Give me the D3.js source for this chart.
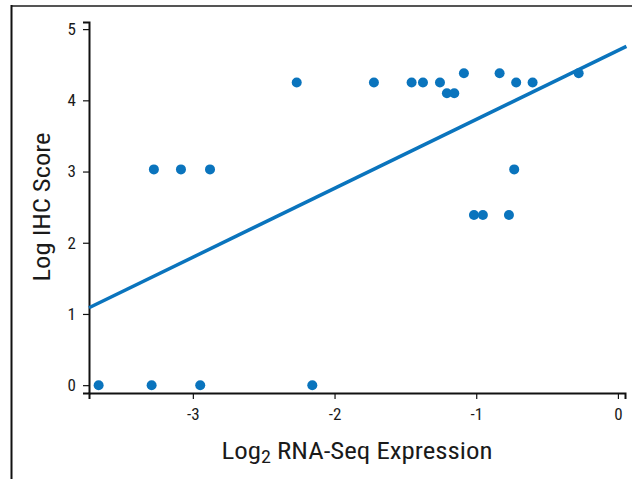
<!DOCTYPE html>
<html><head><meta charset="utf-8">
<script src="https://cdn.jsdelivr.net/npm/d3@7"></script>
<style>
html,body{margin:0;padding:0;background:#fff;}
svg{display:block;}
text{font-family:"Liberation Sans Narrow","Roboto Condensed","Arial Narrow","Liberation Sans",sans-serif;fill:#1a1a1a;}
</style></head><body>
<svg id="chart" width="632" height="479"></svg>
<script>
// Data
const rnaSeq = [-3.665, -3.291, -2.948, -2.157,
  -3.275, -3.084, -2.879,
  -2.267, -1.722, -1.456, -1.376, -1.256, -0.718, -0.602,
  -1.207, -1.155,
  -1.087, -0.835, -0.277,
  -0.732,
  -1.016, -0.953, -0.769];
const ihcScore = [0, 0, 0, 0,
  3.03, 3.03, 3.03,
  4.25, 4.25, 4.25, 4.25, 4.25, 4.25, 4.25,
  4.1, 4.1,
  4.38, 4.38, 4.38,
  3.03,
  2.39, 2.39, 2.39];
const fitSlope = 0.968;
const fitIntercept = 4.70;
const fitRange = [-3.733, 0.06];
const xTicks = [-3, -2, -1, 0];
const yTicks = [0, 1, 2, 3, 4, 5];

const svg = d3.select("#chart");
const blue = "#0a74bd";

// frame
svg.append("line").attr("x1", 11).attr("x2", 632).attr("y1", 6).attr("y2", 6)
  .attr("stroke", "#555").attr("stroke-width", 2);
svg.append("line").attr("x1", 11.5).attr("x2", 11.5).attr("y1", 5).attr("y2", 479)
  .attr("stroke", "#111").attr("stroke-width", 2);

const x = d3.scaleLinear().domain([-3.733, 0.05]).range([89, 625]);
const y = d3.scaleLinear().domain([-0.11, 5.1]).range([393, 22]);

const xAxis = d3.axisBottom(x).tickValues(xTicks).tickSize(6).tickPadding(9)
  .tickFormat(d => String(d));
const yAxis = d3.axisLeft(y).tickValues(yTicks).tickSize(6).tickPadding(7)
  .tickFormat(d3.format("d"));

const gx = svg.append("g").attr("transform", "translate(0,393)").call(xAxis);
const gy = svg.append("g").attr("transform", "translate(89,0)").call(yAxis);
[gx, gy].forEach(g => {
  g.select(".domain").attr("stroke", "#111").attr("stroke-width", 2);
  g.selectAll(".tick line").attr("stroke", "#111").attr("stroke-width", 1.2);
  g.selectAll(".tick text").attr("font-size", 17).attr("fill", "#1a1a1a")
    .attr("font-family", "'Liberation Sans Narrow','Roboto Condensed','Arial Narrow',sans-serif");
});

// regression line
svg.append("line")
  .attr("x1", x(fitRange[0])).attr("y1", y(fitIntercept + fitSlope * fitRange[0]))
  .attr("x2", x(fitRange[1])).attr("y2", y(fitIntercept + fitSlope * fitRange[1]))
  .attr("stroke", blue).attr("stroke-width", 3.5);

// points
svg.append("g").selectAll("circle").data(rnaSeq.map((v, i) => [v, ihcScore[i]]))
  .join("circle")
  .attr("cx", d => x(d[0])).attr("cy", d => y(d[1])).attr("r", 5)
  .attr("fill", blue);

// axis titles
const xt = svg.append("text").attr("x", 357).attr("y", 459).attr("text-anchor", "middle")
  .attr("font-size", 24).attr("textLength", 271).attr("lengthAdjust", "spacingAndGlyphs");
xt.append("tspan").text("Log");
xt.append("tspan").attr("font-size", 18).attr("dy", 4).text("2");
xt.append("tspan").attr("dy", -4).text(" RNA-Seq Expression");

svg.append("text").attr("transform", "translate(50,207) rotate(-90)")
  .attr("text-anchor", "middle").attr("font-size", 24)
  .attr("textLength", 149).attr("lengthAdjust", "spacingAndGlyphs").text("Log IHC Score");
</script>
</body></html>
